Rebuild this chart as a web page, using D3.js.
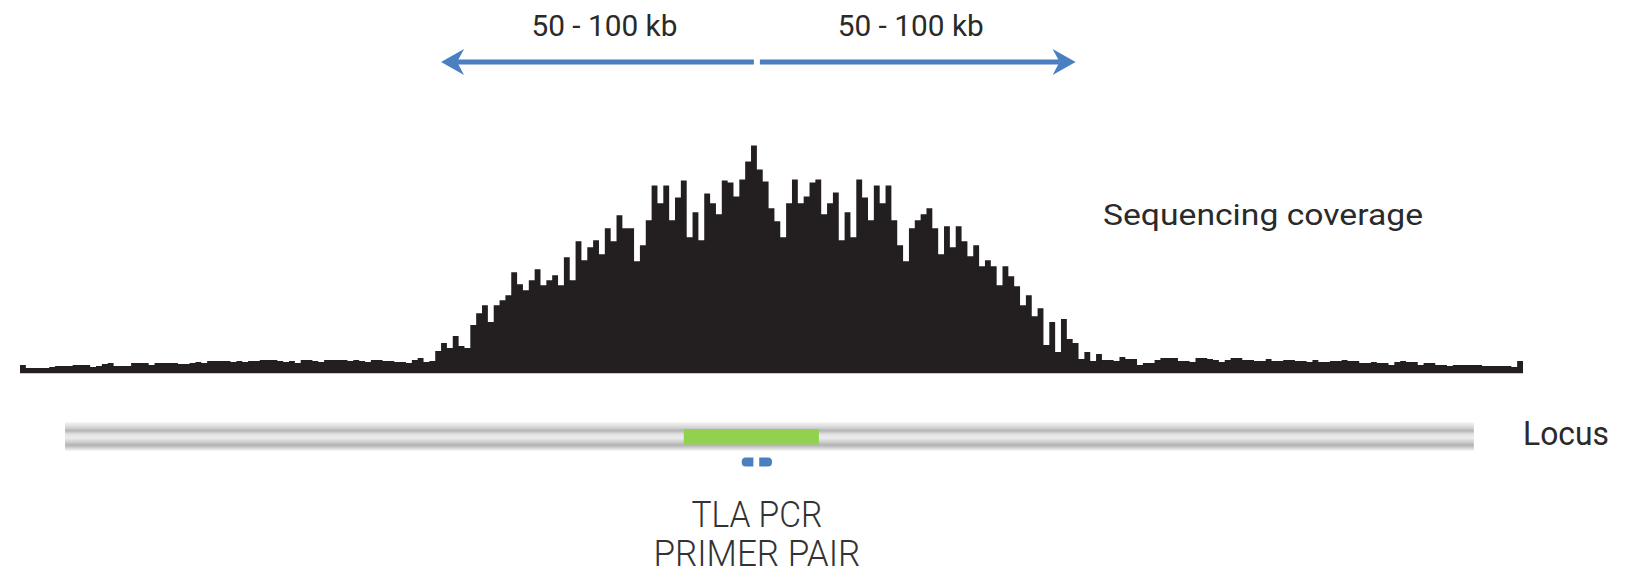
<!DOCTYPE html>
<html>
<head>
<meta charset="utf-8">
<script src="https://cdn.jsdelivr.net/npm/d3@7"></script>
<style>
  html, body { margin: 0; padding: 0; background: #ffffff; }
  svg { display: block; }
  text { font-family: Roboto, "Open Sans", sans-serif; fill: #2a2a2a; }
</style>
</head>
<body>
<svg id="chart" width="1626" height="577"></svg>
<script>
// Read depth per genomic bin across the captured region
const coverage = [
  8, 5, 5, 5, 5, 6, 7, 7, 7, 8,
  8, 8, 6, 7, 9, 10, 7, 7, 7, 10,
  10, 10, 8, 10, 10, 10, 10, 9, 9, 10,
  11, 10, 12, 12, 12, 12, 11, 12, 11, 12,
  12, 13, 13, 13, 12, 11, 12, 10, 13, 13,
  12, 11, 13, 13, 13, 13, 12, 13, 12, 11,
  13, 13, 12, 12, 11, 11, 10, 13, 15, 11,
  12, 22, 30, 25, 37, 27, 25, 48, 60, 68,
  51, 68, 73, 78, 101, 89, 83, 93, 104, 88,
  93, 98, 88, 116, 93, 132, 113, 126, 133, 119,
  145, 132, 158, 145, 145, 112, 128, 153, 188, 170,
  188, 153, 176, 193, 136, 161, 133, 180, 170, 159,
  193, 191, 177, 194, 212, 228, 204, 192, 165, 152,
  136, 170, 194, 170, 177, 191, 194, 159, 170, 181,
  133, 161, 136, 194, 176, 153, 188, 170, 188, 153,
  128, 112, 145, 153, 159, 165, 145, 119, 147, 126,
  147, 132, 117, 128, 107, 113, 107, 88, 107, 97,
  87, 68, 78, 57, 65, 28, 51, 21, 54, 34,
  30, 14, 21, 12, 19, 13, 13, 12, 16, 14,
  14, 8, 10, 10, 13, 15, 15, 15, 12, 12,
  11, 15, 15, 14, 13, 11, 13, 15, 15, 13,
  13, 12, 12, 14, 12, 12, 13, 13, 12, 12,
  11, 13, 11, 11, 12, 12, 13, 12, 12, 10,
  10, 11, 10, 10, 8, 11, 12, 11, 11, 8,
  10, 10, 8, 8, 7, 8, 8, 8, 8, 8,
  7, 7, 7, 7, 7, 6, 12
];

// Genomic features, in bin units along the same axis as the coverage
const viewpoint = 126;                 // position of the TLA primer pair
const spanEnds = [72, 180.5];          // reach of the proximity signal on each side
const spanLabels = ["50 - 100 kb", "50 - 100 kb"];
const locusRange = [7.7, 248.6];
const ampliconRange = [113.5, 136.6];
const primerRanges = [[123.4, 125.4], [126.4, 128.6]];
const trackLabels = ["Sequencing coverage", "Locus"];
const primerLabel = ["TLA PCR", "PRIMER PAIR"];

const svg = d3.select("#chart");
const defs = svg.append("defs");

const x = d3.scaleLinear().domain([0, coverage.length]).range([20, 1523]);
const y = d3.scaleLinear().domain([0, 228]).range([373, 145.5]);

const blue = "#4a7fc2";
const ink = "#231f20";

// ---- coverage histogram: one bar per bin, drawn as a single stepped silhouette ----
const bins = coverage.map((v, i) => ({ i, v }));
bins.push({ i: coverage.length, v: coverage[coverage.length - 1] });

svg.append("path")
  .datum(bins)
  .attr("fill", ink)
  .attr("d", d3.area()
    .curve(d3.curveStepAfter)
    .x(d => x(d.i))
    .y0(y(0))
    .y1(d => y(d.v)));

svg.append("line")
  .attr("x1", x(0)).attr("x2", x(coverage.length))
  .attr("y1", y(0) + 0.5).attr("y2", y(0) + 0.5)
  .attr("stroke", "#c8c8c8").attr("stroke-width", 1);

svg.append("text")
  .attr("x", 1103).attr("y", 225)
  .attr("font-size", 29)
  .attr("textLength", 320).attr("lengthAdjust", "spacingAndGlyphs")
  .text(trackLabels[0]);

// ---- range arrows above the peak ----
const arrowY = 62;
const gap = 3;
const head = 23, half = 13, notch = 7;
spanEnds.forEach((end, k) => {
  const dir = end < viewpoint ? -1 : 1;
  const x0 = x(viewpoint) + dir * gap;
  const tip = x(end);
  svg.append("line")
    .attr("x1", x0).attr("x2", tip - dir * (head - notch))
    .attr("y1", arrowY).attr("y2", arrowY)
    .attr("stroke", blue).attr("stroke-width", 5);
  svg.append("path")
    .attr("d", `M${tip},${arrowY}
      L${tip - dir * head},${arrowY - half}
      L${tip - dir * (head - notch)},${arrowY}
      L${tip - dir * head},${arrowY + half} Z`)
    .attr("fill", blue);
  svg.append("text")
    .attr("x", (x0 + tip) / 2 - dir * 7)
    .attr("y", 36)
    .attr("text-anchor", "middle")
    .attr("font-size", 29)
    .attr("textLength", 146).attr("lengthAdjust", "spacingAndGlyphs")
    .text(spanLabels[k]);
});

// ---- locus track ----
const tube = defs.append("linearGradient")
  .attr("id", "tube").attr("x1", 0).attr("x2", 0).attr("y1", 0).attr("y2", 1);
[[0, "#f7f7f7"], [0.2, "#d2d2d2"], [0.3, "#b4b4b4"], [0.42, "#e2e2e2"],
 [0.55, "#ececec"], [0.68, "#d0d0d0"], [0.8, "#b2b2b2"], [0.92, "#dcdcdc"], [1, "#f8f8f8"]]
  .forEach(([o, c]) => tube.append("stop").attr("offset", o).attr("stop-color", c));

svg.append("rect")
  .attr("x", x(locusRange[0])).attr("width", x(locusRange[1]) - x(locusRange[0]))
  .attr("y", 422).attr("height", 29)
  .attr("fill", "url(#tube)");

svg.append("rect")
  .attr("x", x(ampliconRange[0])).attr("width", x(ampliconRange[1]) - x(ampliconRange[0]))
  .attr("y", 429).attr("height", 15.5)
  .attr("fill", "#92d050");

svg.append("text")
  .attr("x", 1523).attr("y", 445)
  .attr("font-size", 33)
  .attr("textLength", 86).attr("lengthAdjust", "spacingAndGlyphs")
  .text(trackLabels[1]);

// ---- primer pair, pointing outward from the viewpoint ----
const pY = 462, pH = 4.5;
primerRanges.forEach(([a, b], k) => {
  const xa = x(a), xb = x(b);
  const d = k === 0
    ? `M${xa + 4},${pY - pH} L${xb},${pY - pH} L${xb},${pY + pH} L${xa + 4},${pY + pH}
       Q${xa},${pY + pH} ${xa},${pY} Q${xa},${pY - pH} ${xa + 4},${pY - pH} Z`
    : `M${xa},${pY - pH} L${xb - 4},${pY - pH} Q${xb},${pY - pH} ${xb},${pY}
       Q${xb},${pY + pH} ${xb - 4},${pY + pH} L${xa},${pY + pH} Z`;
  svg.append("path").attr("d", d).attr("fill", blue);
});

svg.selectAll("text.primer")
  .data(primerLabel)
  .join("text")
  .attr("class", "primer")
  .attr("x", x(viewpoint))
  .attr("y", (d, i) => 527 + i * 39)
  .attr("text-anchor", "middle")
  .attr("font-size", 36)
  .attr("font-weight", 300)
  .attr("textLength", (d, i) => i === 0 ? 131 : 207)
  .attr("lengthAdjust", "spacingAndGlyphs")
  .style("fill", "#333")
  .text(d => d);
</script>
</body>
</html>
